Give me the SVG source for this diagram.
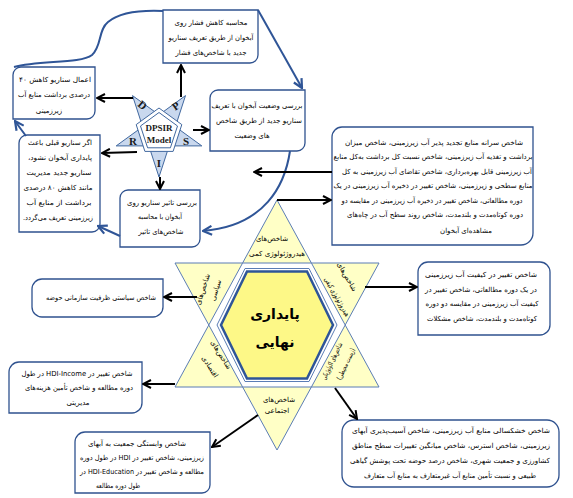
<svg xmlns="http://www.w3.org/2000/svg" width="573" height="498" viewBox="0 0 573 498">
<defs>
<style>
.box{fill:#fff;stroke:#2f528f;stroke-width:1.3}
.t{font-family:"DejaVu Sans",sans-serif;font-size:7px;fill:#000;direction:rtl;unicode-bidi:embed}
.tb{font-family:"DejaVu Sans",sans-serif;font-size:14px;font-weight:bold;fill:#000;direction:rtl}
.lat{font-family:"Liberation Serif",serif;font-weight:bold;fill:#1a1a1a}
.ka{fill:none;stroke:#000;stroke-width:2}
.bl{fill:none;stroke:#2f5597;stroke-width:2}
.tri{fill:#ffffc6;stroke:#5b7db5;stroke-width:1}
</style>
<marker id="ak" viewBox="0 0 10 10" refX="9" refY="5" markerWidth="10" markerHeight="10" markerUnits="userSpaceOnUse" orient="auto"><path d="M1,1 L9,5 L1,9" fill="none" stroke="#000" stroke-width="2"/></marker>
<marker id="ab" viewBox="0 0 10 10" refX="9" refY="5" markerWidth="11" markerHeight="11" markerUnits="userSpaceOnUse" orient="auto"><path d="M1,1 L9,5 L1,9" fill="none" stroke="#2f5597" stroke-width="2"/></marker>
</defs>

<g id="dpsir">
<path d="M159,177 L132.5,95.6 L201.8,145.9 L116.2,145.9 L185.5,95.6 Z" fill="#c9d8ee" stroke="#41689f" stroke-width="1"/>
<polygon points="159,108 181.8,124.6 173.1,151.4 144.9,151.4 136.2,124.6" fill="#fff" stroke="#41689f" stroke-width="1"/>
<polygon points="159,112.5 177.5,126 170.4,147.8 147.6,147.8 140.5,126" fill="#fff" stroke="#41689f" stroke-width="1"/>
<text class="lat" x="159" y="131" font-size="9" text-anchor="middle">DPSIR</text>
<text class="lat" x="159" y="143" font-size="9" text-anchor="middle">Model</text>
<text class="lat" font-size="11" text-anchor="middle" transform="translate(140,108) rotate(40)">D</text>
<text class="lat" font-size="11" text-anchor="middle" transform="translate(178,109) rotate(-35)">P</text>
<text class="lat" font-size="11" text-anchor="middle" x="186" y="145">S</text>
<text class="lat" font-size="11" text-anchor="middle" x="159" y="167">I</text>
<text class="lat" font-size="11" text-anchor="middle" x="133" y="145">R</text>
</g>

<g id="box1">
<path class="box" d="M163,10 H258 V55 A8,8 0 0 1 250,63 H163 Z"/>
<text class="t" x="211" y="25" text-anchor="middle" textLength="73" lengthAdjust="spacingAndGlyphs">محاسبه کاهش فشار روی</text>
<text class="t" x="211" y="40" text-anchor="middle" textLength="85" lengthAdjust="spacingAndGlyphs">آبخوان از طریق تعریف سناریو</text>
<text class="t" x="211" y="55" text-anchor="middle" textLength="71" lengthAdjust="spacingAndGlyphs">جدید با شاخص‌های فشار</text>
</g>

<g id="box2">
<path class="box" d="M21,67 H95 V111 A8,8 0 0 1 87,119 H13 V75 A8,8 0 0 1 21,67 Z"/>
<text class="t" x="55" y="82" text-anchor="middle" textLength="72" lengthAdjust="spacingAndGlyphs">اعمال سناریو کاهش ۴۰</text>
<text class="t" x="54" y="97" text-anchor="middle" textLength="72" lengthAdjust="spacingAndGlyphs">درصدی برداشت منابع آب</text>
<text class="t" x="49" y="113" text-anchor="middle">زیرزمینی</text>
</g>

<g id="box3">
<path class="box" d="M218,90 H305 V143 A8,8 0 0 1 297,151 H210 V98 A8,8 0 0 1 218,90 Z"/>
<text class="t" x="257" y="108" text-anchor="middle" textLength="91" lengthAdjust="spacingAndGlyphs">بررسی وضعیت آبخوان با تعریف</text>
<text class="t" x="259" y="123" text-anchor="middle" textLength="86" lengthAdjust="spacingAndGlyphs">سناریو جدید از طریق شاخص</text>
<text class="t" x="252" y="138" text-anchor="middle">های وضعیت</text>
</g>

<g id="box4">
<path class="box" d="M27,135 H100 V224 A8,8 0 0 1 92,232 H19 V143 A8,8 0 0 1 27,135 Z"/>
<text class="t" x="60" y="145" text-anchor="middle" textLength="64" lengthAdjust="spacingAndGlyphs">اگر سناریو قبلی باعث</text>
<text class="t" x="60" y="160" text-anchor="middle" textLength="64" lengthAdjust="spacingAndGlyphs">پایداری آبخوان نشود،</text>
<text class="t" x="59" y="175" text-anchor="middle" textLength="65" lengthAdjust="spacingAndGlyphs">سناریو جدید مدیریت</text>
<text class="t" x="58" y="190" text-anchor="middle" textLength="69" lengthAdjust="spacingAndGlyphs">مانند کاهش ۸۰ درصدی</text>
<text class="t" x="59" y="205" text-anchor="middle" textLength="65" lengthAdjust="spacingAndGlyphs">برداشت از منابع آب</text>
<text class="t" x="58" y="220" text-anchor="middle" textLength="70" lengthAdjust="spacingAndGlyphs">زیرزمینی تعریف می‌گردد.</text>
</g>

<g id="box5">
<path class="box" d="M128,190 H200 V239 A8,8 0 0 1 192,247 H120 V198 A8,8 0 0 1 128,190 Z"/>
<text class="t" x="162" y="205" text-anchor="middle" textLength="70" lengthAdjust="spacingAndGlyphs">بررسی تاثیر سناریو روی</text>
<text class="t" x="160" y="219" text-anchor="middle" textLength="44" lengthAdjust="spacingAndGlyphs">آبخوان با محاسبه</text>
<text class="t" x="161" y="234" text-anchor="middle" textLength="45" lengthAdjust="spacingAndGlyphs">شاخص‌های تاثیر</text>
</g>

<g id="box6">
<path class="box" d="M342,127 H533 V233 A12,12 0 0 1 521,245 H332 V137 A10,10 0 0 1 342,127 Z"/>
<text class="t" x="434" y="145" text-anchor="middle" textLength="178" lengthAdjust="spacingAndGlyphs">شاخص سرانه منابع تجدید پذیر آب زیرزمینی، شاخص میزان</text>
<text class="t" x="433" y="159" text-anchor="middle" textLength="199" lengthAdjust="spacingAndGlyphs">برداشت و تغذیه آب زیرزمینی، شاخص نسبت کل برداشت به‌کل منابع</text>
<text class="t" x="437" y="174" text-anchor="middle" textLength="190" lengthAdjust="spacingAndGlyphs">آب زیرزمینی قابل بهره‌برداری، شاخص تقاضای آب زیرزمینی به کل</text>
<text class="t" x="433" y="188" text-anchor="middle" textLength="199" lengthAdjust="spacingAndGlyphs">منابع سطحی و زیرزمینی، شاخص تغییر در ذخیره آب زیرزمینی در یک</text>
<text class="t" x="432" y="203" text-anchor="middle" textLength="181" lengthAdjust="spacingAndGlyphs">دوره مطالعاتی، شاخص تغییر در ذخیره آب زیرزمینی در مقایسه دو</text>
<text class="t" x="435" y="217" text-anchor="middle" textLength="176" lengthAdjust="spacingAndGlyphs">دوره کوتاه‌مدت و بلندمدت، شاخص روند سطح آب در چاه‌های</text>
<text class="t" x="466" y="233" text-anchor="middle">مشاهده‌ای آبخوان</text>
</g>

<g id="box7">
<path class="box" d="M428,262 H540 A10,10 0 0 1 550,272 V325 A10,10 0 0 1 540,335 H418 V272 A10,10 0 0 1 428,262 Z"/>
<text class="t" x="481" y="277" text-anchor="middle" textLength="112" lengthAdjust="spacingAndGlyphs">شاخص تغییر در کیفیت آب زیرزمینی</text>
<text class="t" x="481" y="292" text-anchor="middle" textLength="112" lengthAdjust="spacingAndGlyphs">در یک دوره مطالعاتی، شاخص تغییر در</text>
<text class="t" x="482" y="306" text-anchor="middle" textLength="113" lengthAdjust="spacingAndGlyphs">کیفیت آب زیرزمینی در مقایسه دو دوره</text>
<text class="t" x="482" y="321" text-anchor="middle" textLength="110" lengthAdjust="spacingAndGlyphs">کوتاه‌مدت و بلندمدت، شاخص مشکلات</text>
</g>

<g id="box8">
<path class="box" d="M42,279 H163 V307 A10,10 0 0 1 153,317 H42 A10,10 0 0 1 32,307 V289 A10,10 0 0 1 42,279 Z"/>
<text class="t" x="101" y="300" text-anchor="middle" textLength="110" lengthAdjust="spacingAndGlyphs">شاخص سیاستی ظرفیت سازمانی حوضه</text>
</g>

<g id="box9">
<path class="box" d="M19,362 H142 V403 A10,10 0 0 1 132,413 H9 V372 A10,10 0 0 1 19,362 Z"/>
<text class="t" x="77" y="376" text-anchor="middle" textLength="111" lengthAdjust="spacingAndGlyphs">شاخص تغییر در HDI-Income در طول</text>
<text class="t" x="79" y="390" text-anchor="middle" textLength="108" lengthAdjust="spacingAndGlyphs">دوره مطالعه و شاخص تأمین هزینه‌های</text>
<text class="t" x="78" y="405" text-anchor="middle">مدیریتی</text>
</g>

<g id="box10">
<path class="box" d="M85,432 H210 V485 A8,8 0 0 1 202,493 H75 V442 A10,10 0 0 1 85,432 Z"/>
<text class="t" x="137" y="446" text-anchor="middle" textLength="98" lengthAdjust="spacingAndGlyphs">شاخص وابستگی جمعیت به آبهای</text>
<text class="t" x="142" y="460" text-anchor="middle" textLength="124" lengthAdjust="spacingAndGlyphs">زیرزمینی، شاخص تغییر در HDI در طول دوره</text>
<text class="t" x="142" y="474" text-anchor="middle" textLength="124" lengthAdjust="spacingAndGlyphs">مطالعه و شاخص تغییر در HDI-Education در</text>
<text class="t" x="118" y="488" text-anchor="middle" textLength="44" lengthAdjust="spacingAndGlyphs">طول دوره مطالعه</text>
</g>

<g id="box11">
<path class="box" d="M354,420 H547 A12,12 0 0 1 559,432 V475 A12,12 0 0 1 547,487 H354 A12,12 0 0 1 342,475 V432 A12,12 0 0 1 354,420 Z"/>
<text class="t" x="451" y="433" text-anchor="middle" textLength="198" lengthAdjust="spacingAndGlyphs">شاخص خشکسالی منابع آب زیرزمینی، شاخص آسیب‌پذیری آبهای</text>
<text class="t" x="451" y="448" text-anchor="middle" textLength="198" lengthAdjust="spacingAndGlyphs">زیرزمینی، شاخص استرس، شاخص میانگین تغییرات سطح مناطق</text>
<text class="t" x="450" y="463" text-anchor="middle" textLength="200" lengthAdjust="spacingAndGlyphs">کشاورزی و جمعیت شهری، شاخص درصد حوضه تحت پوشش گیاهی</text>
<text class="t" x="450" y="478" text-anchor="middle" textLength="172" lengthAdjust="spacingAndGlyphs">طبیعی و نسبت تأمین منابع آب غیرمتعارف به منابع آب متعارف</text>
</g>

<g id="star">
<polygon class="tri" points="277,200 311.4,263 379,263 345.2,325 379,387 311.4,387 277,450 242.6,387 175,387 208.8,325 175,263 242.6,263"/>
<polygon points="242.6,263 311.4,263 345.2,325 311.4,387 242.6,387 208.8,325" fill="#fff" stroke="#5b7db5" stroke-width="1"/>
<polygon points="245,268.5 309,268.5 337,325 309,381.5 245,381.5 217,325" fill="#fff" stroke="#5b7db5" stroke-width="1"/>
<polygon points="247,271.5 307,271.5 333,325 307,378.5 247,378.5 221,325" fill="#fdf887" stroke="#2f5597" stroke-width="2.5"/>
<text class="tb" x="275" y="319" text-anchor="middle">پایداری</text>
<text class="tb" x="275" y="347" text-anchor="middle">نهایی</text>
<text class="t" x="272" y="241" text-anchor="middle">شاخص‌های</text>
<text class="t" x="277" y="256" text-anchor="middle" textLength="56" lengthAdjust="spacingAndGlyphs">هیدروژئولوژی کمی</text>
<text class="t" text-anchor="middle" transform="translate(345,278) rotate(60)">شاخص‌های</text>
<text class="t" text-anchor="middle" transform="translate(335,298) rotate(60)" textLength="44" lengthAdjust="spacingAndGlyphs">هیدروژئولوژی کیفی</text>
<text class="t" text-anchor="middle" transform="translate(205,290) rotate(-72)">شاخص‌های</text>
<text class="t" text-anchor="middle" transform="translate(218,291) rotate(-72)">سیاسی</text>
<text class="t" text-anchor="middle" transform="translate(219,356) rotate(58)">شاخص‌های</text>
<text class="t" text-anchor="middle" transform="translate(208,368) rotate(58)">اقتصادی</text>
<text class="t" text-anchor="middle" transform="translate(334,362) rotate(-65)" textLength="40" lengthAdjust="spacingAndGlyphs">شاخص‌های اکولوژیکی</text>
<text class="t" text-anchor="middle" transform="translate(348,365) rotate(-65)" textLength="34" lengthAdjust="spacingAndGlyphs">(زیست محیطی)</text>
<text class="t" x="279" y="402" text-anchor="middle">شاخص‌های</text>
<text class="t" x="277" y="413" text-anchor="middle">اجتماعی</text>
</g>

<g id="connectors">
<path class="bl" d="M14,67 C40,60 80,64 92,55 C102,46 98,30 108,22 C120,12 140,10 163,11"/>
<path class="bl" d="M258,10 L302,88" marker-end="url(#ab)"/>
<path class="bl" d="M290,151 C285,185 265,226 203,231" marker-end="url(#ab)"/>
<path class="bl" d="M120,236 L98,226" marker-end="url(#ab)"/>
<path class="bl" d="M26,136 Q20,128 15,121" marker-end="url(#ab)"/>
<path class="ka" d="M181,97 L181,65" marker-end="url(#ak)"/>
<path class="ka" d="M133,98 L97,98" marker-end="url(#ak)"/>
<path class="ka" d="M193,130 L209,130" marker-end="url(#ak)"/>
<path class="ka" d="M137,152 L102,153" marker-end="url(#ak)"/>
<path class="ka" d="M160,177 L160,189" marker-end="url(#ak)"/>
<path class="ka" d="M277,200 L331,200" marker-end="url(#ak)"/>
<path class="ka" d="M332,172 L254,172" marker-end="url(#ak)"/>
<path class="ka" d="M365,287 L417,287" marker-end="url(#ak)"/>
<path class="ka" d="M197,297 L164,297" marker-end="url(#ak)"/>
<path class="ka" d="M175,384 L143,384" marker-end="url(#ak)"/>
<path class="ka" d="M258,415 L212,447" marker-end="url(#ak)"/>
<path class="ka" d="M335,388 L357,419" marker-end="url(#ak)"/>
</g>
</svg>
